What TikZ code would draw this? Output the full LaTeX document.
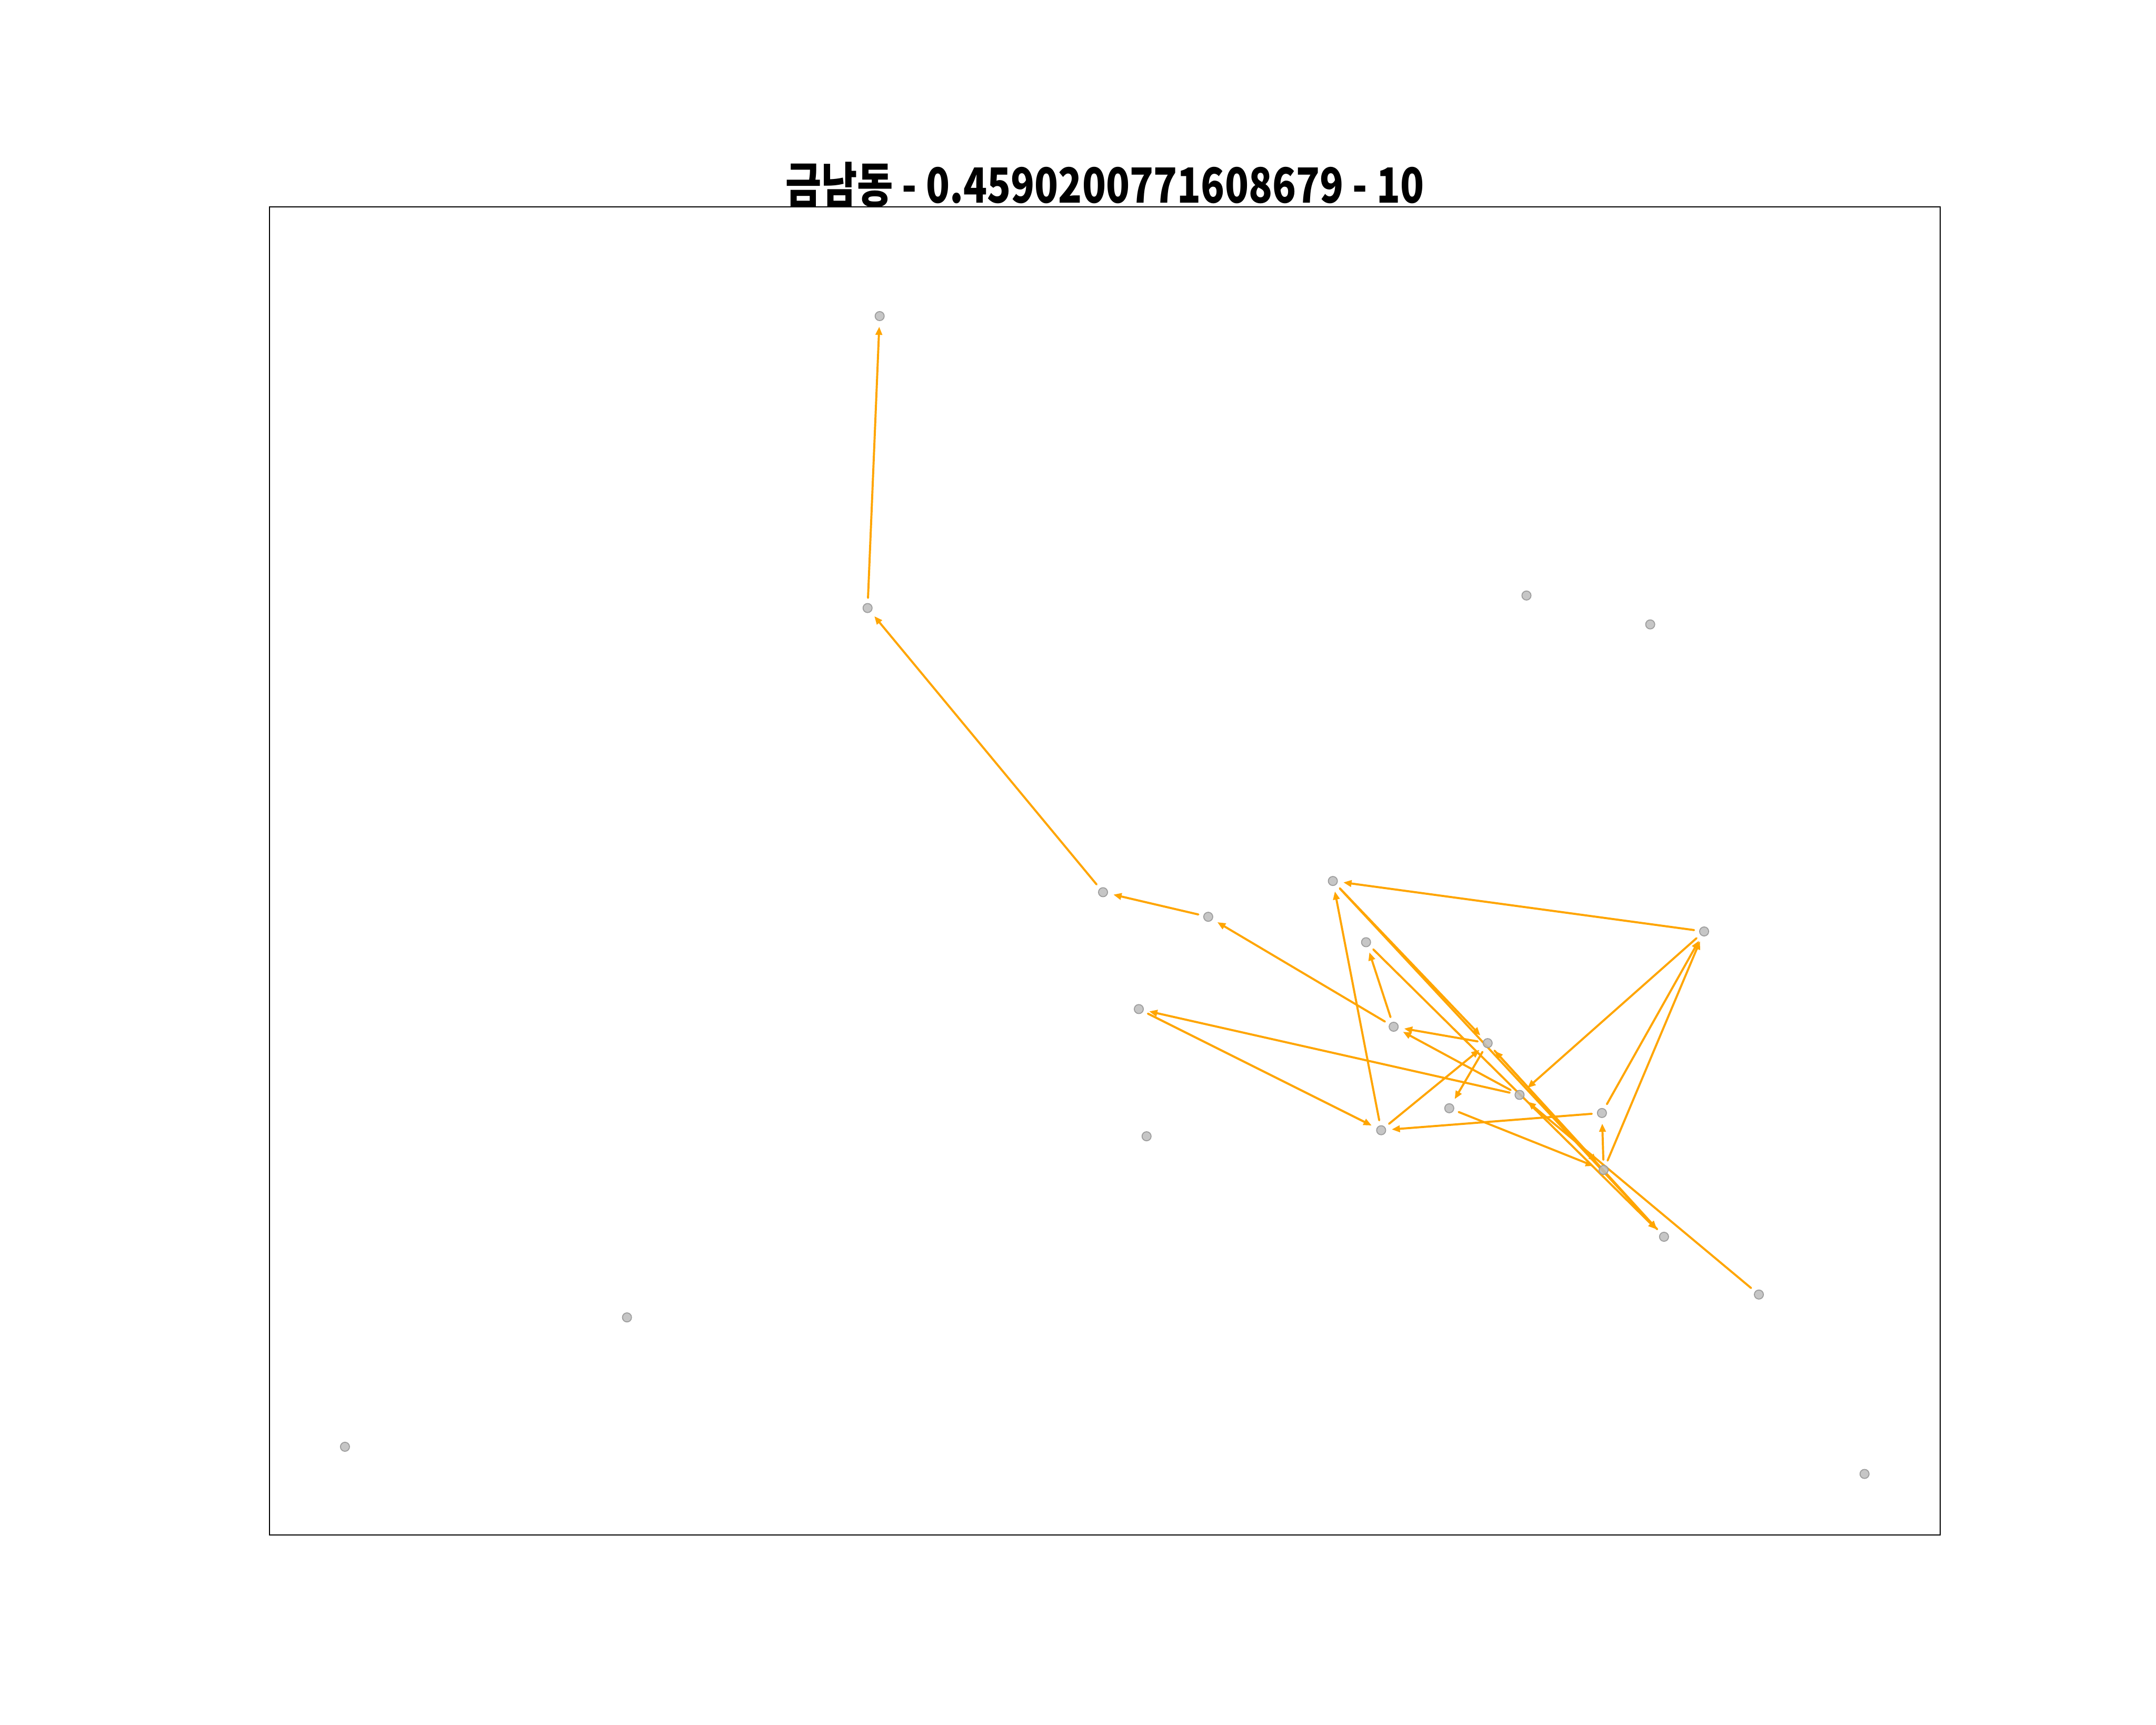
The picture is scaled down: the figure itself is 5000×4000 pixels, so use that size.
\documentclass[tikz,border=0pt]{standalone}
\usepackage{fontspec}
\usepackage{graphicx}
\newfontfamily\krfont{Noto Sans CJK KR}
\usetikzlibrary{arrows.meta}
\pgfdeclarelayer{bg}
\pgfdeclarelayer{edges}
\pgfsetlayers{bg,edges,main}
\definecolor{flowc}{HTML}{FFA500}
\definecolor{vfill}{HTML}{BDBDBD}
\definecolor{vline}{HTML}{9E9E9E}
\tikzset{
  vtx/.style={circle,minimum size=0.21cm,inner sep=0pt,outer sep=0pt,
    fill=vfill,fill opacity=0.85,draw=vline,line width=0.022cm},
  flow/.style={draw=flowc,line width=0.048cm,line cap=round,
    -{Triangle[length=0.19cm,width=0.15cm]},
    shorten <=0.13cm, shorten >=0.14cm},
  frame/.style={draw=black,line width=0.025cm},
  ttl/.style={font=\krfont\bfseries\fontsize{32}{38}\selectfont,anchor=base,inner sep=0pt}
}
\begin{document}
\begin{tikzpicture}[x=0.01cm,y=-0.01cm]
\useasboundingbox (0,0) rectangle (5000,4000);
\begin{pgfonlayer}{bg}
\fill[white] (0,0) rectangle (5000,4000);
\end{pgfonlayer}
\draw[frame] (625,480) rectangle (4500,3560);
\node[ttl] (title) at (2562,470) {\resizebox{14.8cm}{\height}{금남동 - 0.4590200771608679 - 10}};
% vertices
\node[vtx] (n1) at (2040,733) {};
\node[vtx] (n2) at (2012,1410) {};
\node[vtx] (n3) at (3540,1381) {};
\node[vtx] (n4) at (3827,1448) {};
\node[vtx] (n5) at (2558,2069) {};
\node[vtx] (n6) at (2802,2126) {};
\node[vtx] (n7) at (3091,2043) {};
\node[vtx] (n8) at (3168,2185) {};
\node[vtx] (n9) at (3952,2160) {};
\node[vtx] (n10) at (2641,2340) {};
\node[vtx] (n11) at (3232,2381) {};
\node[vtx] (n12) at (3450,2419) {};
\node[vtx] (n13) at (3524,2539) {};
\node[vtx] (n14) at (3361,2570) {};
\node[vtx] (n15) at (3715,2581) {};
\node[vtx] (n16) at (3203,2621) {};
\node[vtx] (n17) at (2659,2635) {};
\node[vtx] (n18) at (3719,2713) {};
\node[vtx] (n19) at (3859,2868) {};
\node[vtx] (n20) at (4079,3002) {};
\node[vtx] (n21) at (1454,3055) {};
\node[vtx] (n22) at (800,3355) {};
\node[vtx] (n23) at (4324,3418) {};
\begin{pgfonlayer}{edges}
\draw[flow] (n2) -- (n1);
\draw[flow] (n5) -- (n2);
\draw[flow] (n6) -- (n5);
\draw[flow] (n11) -- (n6);
\draw[flow] (n13) -- (n10);
\draw[flow] (n10) -- (n16);
\draw[flow] (n9) -- (n7);
\draw[flow] (n7) -- (n12);
\draw[flow] (n7) -- (n19);
\draw[flow] (n8) -- (n19);
\draw[flow] (n19) -- (n12);
\draw[flow] (n12) -- (n18);
\draw[flow] (n16) -- (n12);
\draw[flow] (n16) -- (n7);
\draw[flow] (n11) -- (n8);
\draw[flow] (n12) -- (n11);
\draw[flow] (n13) -- (n11);
\draw[flow] (n12) -- (n14);
\draw[flow] (n14) -- (n18);
\draw[flow] (n15) -- (n16);
\draw[flow] (n9) -- (n13);
\draw[flow] (n20) -- (n13);
\draw[flow] (n18) -- (n15);
\draw[flow] (n18) -- (n9);
\draw[flow] (n15) -- (n9);
\end{pgfonlayer}
\end{tikzpicture}
\end{document}
